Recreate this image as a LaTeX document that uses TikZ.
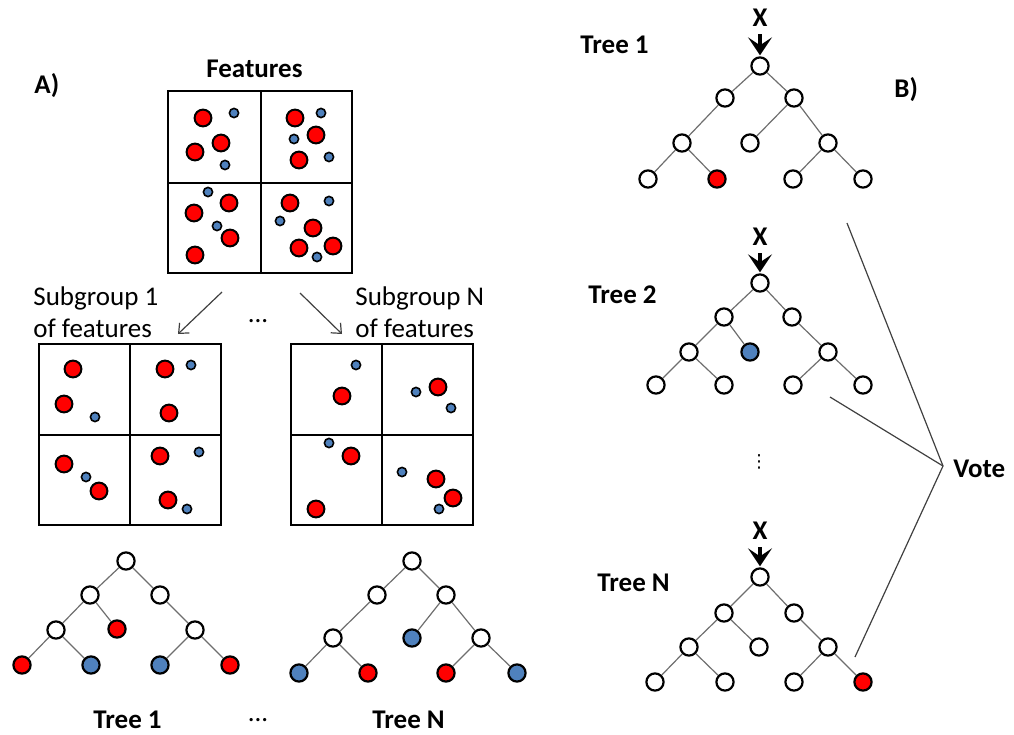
\documentclass[tikz,border=0pt]{standalone}
\usepackage{fontspec}
\setmainfont{Carlito}
\newfontfamily\symbolfont{DejaVu Sans}
\usetikzlibrary{arrows.meta}
\definecolor{dotred}{HTML}{FF0000}
\definecolor{dotblue}{HTML}{4F81BD}
\definecolor{edgegray}{HTML}{6E6E6E}
\definecolor{linegray}{HTML}{404040}
\begin{document}
\begin{tikzpicture}[x=0.5pt,y=-0.5pt,
  every node/.style={font=\fontsize{13.5}{16}\selectfont},
  lbl/.style={anchor=base west, inner sep=0pt},
  blbl/.style={anchor=base west, inner sep=0pt, font=\fontsize{13.5}{16}\selectfont\bfseries},
  tn/.style={circle, draw=black, line width=1.1pt, minimum size=8.6pt, inner sep=0pt, fill=white},
  tr/.style={tn, fill=dotred},
  tb/.style={tn, fill=dotblue},
  edge/.style={draw=edgegray, line width=0.6pt},
  outerbox/.style={draw=black, line width=1.3pt},
  gridline/.style={draw=black, line width=0.6pt},
  reddot/.style={draw=black, fill=dotred, line width=1pt},
  bluedot/.style={draw=black, fill=dotblue, line width=0.8pt},
  xarrow/.style={draw=black, line width=2.3pt, -{Stealth[length=9pt,width=12pt,inset=4pt]}},
  subarrow/.style={draw=linegray, line width=0.6pt, -{Straight Barb[length=4pt,width=7pt]}},
  voteline/.style={draw=linegray, line width=0.6pt},
  xlbl/.style={anchor=base, inner sep=0pt, font=\fontsize{13.5}{16}\selectfont\bfseries}
]
\useasboundingbox (0,0) rectangle (1014,735);

% ---------- Part A ----------
\node[blbl] (labelA) at (34,93) {A)};
\node[blbl] (features) at (206,77) {Features};

% Features box
\draw[gridline] (261,91) -- (261,273);
\draw[gridline] (168,183) -- (352,183);
\draw[outerbox] (168,91) rectangle (352,273);
\foreach \x/\y in {203/118,195/152,221/143,295/118,316/135,299/160,229/203,194/213,230/238,195/255,290/203,313/228,299/248,333/246}
  \draw[reddot] (\x,\y) circle (4.2pt);
\foreach \x/\y in {234/113,225/165,321/113,294/139,329/157,208/192,217/226,329/201,280/221,317/257}
  \draw[bluedot] (\x,\y) circle (2.3pt);

% Subgroup labels and arrows
\node[lbl] (sub1a) at (33,305) {Subgroup 1};
\node[lbl] (sub1b) at (33,337) {of features};
\node[lbl] (subNa) at (355,305) {Subgroup N};
\node[lbl] (subNb) at (355,337) {of features};
\node[anchor=base, inner sep=0pt] (dotsmid) at (258,322) {...};
\coordinate (s1from) at (222,292);
\coordinate (s1to) at (178,334);
\coordinate (sNfrom) at (300,293);
\coordinate (sNto) at (342,334);
\draw[subarrow] (s1from) -- (s1to);
\draw[subarrow] (sNfrom) -- (sNto);

% Box 1
\draw[gridline] (130,344) -- (130,525);
\draw[gridline] (39,435) -- (221,435);
\draw[outerbox] (39,344) rectangle (221,525);
\foreach \x/\y in {73/369,64/404,165/369,169/413,64/464,99/491,160/456,168/500}
  \draw[reddot] (\x,\y) circle (4.2pt);
\foreach \x/\y in {95/417,191/365,86/477,199/452,187/509}
  \draw[bluedot] (\x,\y) circle (2.3pt);

% Box 2
\draw[gridline] (382,344) -- (382,525);
\draw[gridline] (291,435) -- (473,435);
\draw[outerbox] (291,344) rectangle (473,525);
\foreach \x/\y in {342/396,438/387,351/456,316/509,436/479,453/498}
  \draw[reddot] (\x,\y) circle (4.2pt);
\foreach \x/\y in {356/365,416/392,451/408,329/443,402/472,439/509}
  \draw[bluedot] (\x,\y) circle (2.3pt);

% Tree 1 (A)
\node[tn] (a1r) at (126,561) {};
\node[tn] (a1a) at (90,595) {};
\node[tn] (a1b) at (160,595) {};
\node[tn] (a1aa) at (56,630) {};
\node[tr] (a1ab) at (117,629) {};
\node[tn] (a1bb) at (195,630) {};
\node[tr] (a1aaa) at (22,665) {};
\node[tb] (a1aab) at (91,665) {};
\node[tb] (a1bba) at (160,665) {};
\node[tr] (a1bbb) at (230,665) {};
\draw[edge] (a1r) -- (a1a);
\draw[edge] (a1r) -- (a1b);
\draw[edge] (a1a) -- (a1aa);
\draw[edge] (a1a) -- (a1ab);
\draw[edge] (a1b) -- (a1bb);
\draw[edge] (a1aa) -- (a1aaa);
\draw[edge] (a1aa) -- (a1aab);
\draw[edge] (a1bb) -- (a1bba);
\draw[edge] (a1bb) -- (a1bbb);

% Tree N (A)
\node[tn] (aNr) at (412,561) {};
\node[tn] (aNa) at (377,595) {};
\node[tn] (aNb) at (446,595) {};
\node[tn] (aNaa) at (333,638) {};
\node[tb] (aNba) at (412,638) {};
\node[tn] (aNbb) at (481,638) {};
\node[tb] (aNaaa) at (299,673) {};
\node[tr] (aNaab) at (368,673) {};
\node[tr] (aNbba) at (446,673) {};
\node[tb] (aNbbb) at (517,673) {};
\draw[edge] (aNr) -- (aNa);
\draw[edge] (aNr) -- (aNb);
\draw[edge] (aNa) -- (aNaa);
\draw[edge] (aNb) -- (aNba);
\draw[edge] (aNb) -- (aNbb);
\draw[edge] (aNaa) -- (aNaaa);
\draw[edge] (aNaa) -- (aNaab);
\draw[edge] (aNbb) -- (aNbba);
\draw[edge] (aNbb) -- (aNbbb);

\node[blbl] (tree1A) at (93,728) {Tree 1};
\node[anchor=base, inner sep=0pt] (dotsbot) at (258,721) {...};
\node[blbl] (treeNA) at (372,728) {Tree N};

% ---------- Part B ----------
\node[blbl] (labelB) at (894,97) {B)};

% Tree 1 (B)
\node[blbl] (b1lbl) at (580,53) {Tree 1};
\node[xlbl] (x1) at (760,26) {X};
\node[tn] (b1r) at (760,66) {};
\node[tn] (b1a) at (725,98) {};
\node[tn] (b1b) at (794,98) {};
\node[tn] (b1aa) at (682,143) {};
\node[tn] (b1ba) at (750,143) {};
\node[tn] (b1bb) at (828,143) {};
\node[tn] (b1aaa) at (648,179) {};
\node[tr] (b1aab) at (717,179) {};
\node[tn] (b1bba) at (793,179) {};
\node[tn] (b1bbb) at (863,179) {};
\draw[xarrow, shorten <=4pt, shorten >=0.5pt] (x1.south) -- (b1r.north);
\draw[edge] (b1r) -- (b1a);
\draw[edge] (b1r) -- (b1b);
\draw[edge] (b1a) -- (b1aa);
\draw[edge] (b1b) -- (b1ba);
\draw[edge] (b1b) -- (b1bb);
\draw[edge] (b1aa) -- (b1aaa);
\draw[edge] (b1aa) -- (b1aab);
\draw[edge] (b1bb) -- (b1bba);
\draw[edge] (b1bb) -- (b1bbb);

% Tree 2 (B)
\node[blbl] (b2lbl) at (588,303) {Tree 2};
\node[xlbl] (x2) at (760,245) {X};
\node[tn] (b2r) at (760,283) {};
\node[tn] (b2a) at (724,317) {};
\node[tn] (b2b) at (792,317) {};
\node[tn] (b2aa) at (689,352) {};
\node[tb] (b2ab) at (750,352) {};
\node[tn] (b2bb) at (828,352) {};
\node[tn] (b2aaa) at (656,385) {};
\node[tn] (b2aab) at (724,385) {};
\node[tn] (b2bba) at (793,385) {};
\node[tn] (b2bbb) at (863,385) {};
\draw[xarrow, shorten <=4pt, shorten >=0.5pt] (x2.south) -- (b2r.north);
\draw[edge] (b2r) -- (b2a);
\draw[edge] (b2r) -- (b2b);
\draw[edge] (b2a) -- (b2aa);
\draw[edge] (b2a) -- (b2ab);
\draw[edge] (b2b) -- (b2bb);
\draw[edge] (b2aa) -- (b2aaa);
\draw[edge] (b2aa) -- (b2aab);
\draw[edge] (b2bb) -- (b2bba);
\draw[edge] (b2bb) -- (b2bbb);

\node[inner sep=0pt, font=\fontsize{9}{10}\symbolfont] (vdotsB) at (759,462) {⋮};

% Tree N (B)
\node[blbl] (bNlbl) at (597,591) {Tree N};
\node[xlbl] (xN) at (760,539) {X};
\node[tn] (bNr) at (760,577) {};
\node[tn] (bNa) at (724,613) {};
\node[tn] (bNb) at (794,613) {};
\node[tn] (bNaa) at (689,647) {};
\node[tn] (bNab) at (759,647) {};
\node[tn] (bNbb) at (828,647) {};
\node[tn] (bNaaa) at (655,682) {};
\node[tn] (bNaab) at (725,682) {};
\node[tn] (bNbba) at (794,682) {};
\node[tr] (bNbbb) at (863,682) {};
\draw[xarrow, shorten <=4pt, shorten >=0.5pt] (xN.south) -- (bNr.north);
\draw[edge] (bNr) -- (bNa);
\draw[edge] (bNr) -- (bNb);
\draw[edge] (bNa) -- (bNaa);
\draw[edge] (bNa) -- (bNab);
\draw[edge] (bNb) -- (bNbb);
\draw[edge] (bNaa) -- (bNaaa);
\draw[edge] (bNaa) -- (bNaab);
\draw[edge] (bNbb) -- (bNbba);
\draw[edge] (bNbb) -- (bNbbb);

% Vote
\coordinate (apex) at (943,466);
\node[blbl] (vote) at (953,477) {Vote};
\coordinate (v1) at (847,223);
\coordinate (v2) at (830,397);
\coordinate (v3) at (855,657);
\draw[voteline] (v1) -- (apex);
\draw[voteline] (v2) -- (apex);
\draw[voteline] (v3) -- (apex);
\end{tikzpicture}
\end{document}
